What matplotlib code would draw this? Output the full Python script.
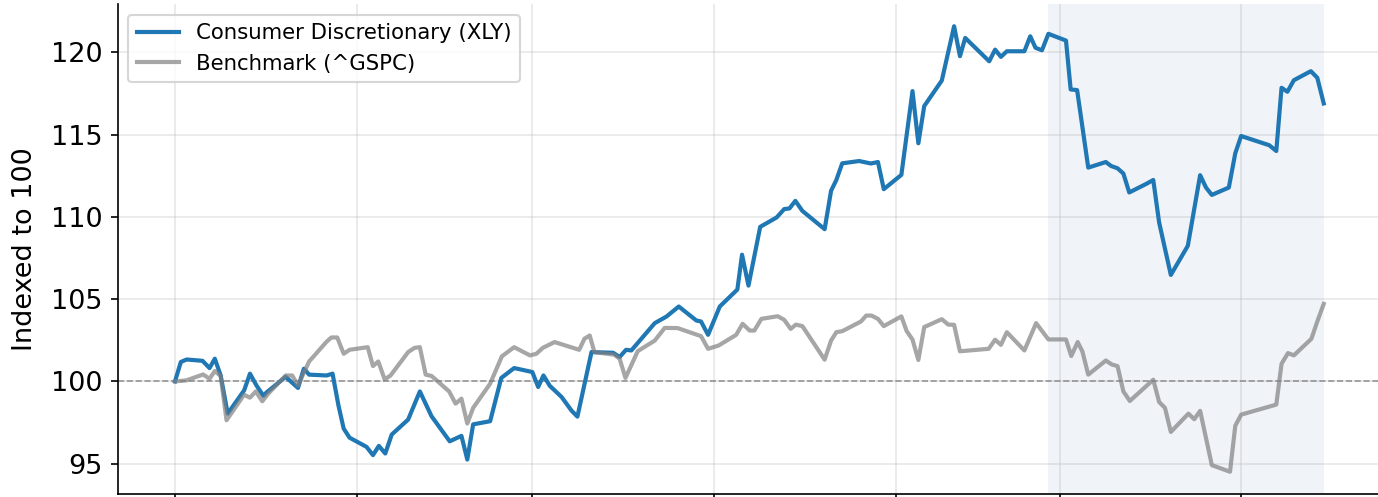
import matplotlib
matplotlib.use("Agg")
import matplotlib.pyplot as plt
import matplotlib.dates as mdates
import pandas as pd

start_date = pd.Timestamp("2024-10-01")

# Consumer Discretionary (XLY), days since start and indexed values
xly_days = [0, 1.0, 2.0, 4.7, 5.9, 6.8, 7.8, 9.0, 11.8, 12.8, 13.9, 15.1, 15.6, 18.9, 20.0,
            21.0, 22.0, 22.9, 25.9, 26.9, 27.9, 28.8, 29.8, 32.7, 33.8, 34.8, 35.9, 37.0,
            39.8, 41.8, 43.8, 46.9, 48.9, 49.9, 50.9, 53.8, 55.7, 57.9, 61.0, 62.0, 62.9,
            64.0, 65.0, 66.0, 67.7, 68.7, 71.1, 74.8, 75.9, 77.0, 77.9, 81.9, 83.9, 86.0,
            89.0, 89.8, 91.0, 93.0, 96.0, 96.8, 97.9, 99.9, 102.7, 104.0, 104.9, 105.9,
            107.1, 110.9, 112.0, 112.9, 113.9, 116.8, 118.8, 120.0, 121.0, 124.0, 125.9,
            126.9, 127.9, 130.9, 133.0, 134.0, 134.9, 139.0, 140.0, 141.0, 142.0, 145.0,
            146.0, 146.9, 148.0, 149.1, 152.1, 152.9, 154.0, 155.9, 158.9, 159.8, 160.9,
            161.9, 162.9, 165.9, 167.0, 168.0, 170.0, 172.9, 175.0, 176.0, 177.0, 179.9,
            181.0, 182.0, 186.8, 188.0, 188.9, 189.9, 191.0, 193.9, 195.0, 196.1]
xly_values = [100.0, 101.18, 101.33, 101.25, 100.81, 101.38, 100.36, 98.04, 99.45, 100.47,
              99.76, 99.12, 99.32, 100.28, 99.92, 99.6, 100.77, 100.41, 100.36, 100.47,
              98.55, 97.13, 96.58, 96.02, 95.52, 96.08, 95.62, 96.77, 97.68, 99.39, 97.88,
              96.36, 96.69, 95.25, 97.39, 97.58, 100.21, 100.81, 100.57, 99.66, 100.36,
              99.72, 99.39, 99.05, 98.22, 97.86, 101.78, 101.74, 101.48, 101.92, 101.88,
              103.54, 103.94, 104.55, 103.7, 103.64, 102.83, 104.55, 105.58, 107.7, 105.82,
              109.39, 109.96, 110.47, 110.51, 110.97, 110.36, 109.25, 111.58, 112.24,
              113.25, 113.39, 113.24, 113.33, 111.68, 112.55, 117.64, 114.47, 116.73,
              118.28, 121.58, 119.76, 120.87, 119.45, 120.16, 119.72, 120.06, 120.06,
              120.97, 120.27, 120.12, 121.12, 120.71, 117.74, 117.7, 112.99, 113.33,
              113.09, 112.95, 112.63, 111.48, 112.02, 112.24, 109.66, 106.47, 108.24,
              112.53, 111.78, 111.33, 111.78, 113.86, 114.91, 114.35, 114.0, 117.84,
              117.6, 118.3, 118.85, 118.45, 116.89]

# Benchmark (^GSPC)
spx_days = [0, 1.9, 4.8, 5.9, 6.8, 7.8, 8.8, 11.8, 12.8, 13.8, 14.9, 15.9, 18.9, 20.0, 21.0,
            22.9, 25.9, 26.7, 27.7, 28.8, 29.8, 32.9, 33.8, 34.7, 35.8, 36.8, 39.8, 40.9,
            41.8, 42.8, 43.8, 46.8, 47.9, 48.9, 49.9, 50.9, 53.8, 55.8, 57.9, 60.6, 61.7,
            62.8, 64.8, 69.0, 69.9, 70.8, 71.6, 75.0, 75.9, 76.9, 79.0, 81.9, 83.6, 85.8,
            89.8, 91.0, 92.8, 95.8, 96.9, 98.1, 98.9, 100.1, 102.9, 104.0, 105.1, 106.0,
            107.1, 110.9, 112.0, 112.9, 113.9, 117.1, 118.0, 118.9, 120.0, 121.0, 124.0,
            124.9, 125.9, 126.9, 127.9, 130.9, 132.0, 133.0, 134.0, 138.9, 140.0, 141.0,
            142.0, 145.0, 147.0, 149.1, 152.1, 153.0, 154.1, 154.9, 155.9, 158.9, 159.9,
            160.9, 161.9, 163.0, 167.0, 168.0, 169.0, 170.0, 173.0, 174.0, 175.0, 177.0,
            180.1, 181.0, 182.0, 188.0, 188.9, 190.0, 191.0, 194.0, 195.0, 196.1]
spx_values = [100.0, 100.06, 100.42, 100.16, 100.63, 100.33, 97.64, 99.19, 99.01, 99.39,
              98.79, 99.25, 100.36, 100.36, 99.76, 101.21, 102.42, 102.67, 102.67, 101.68,
              101.92, 102.08, 100.93, 101.21, 100.12, 100.36, 101.78, 102.04, 102.08,
              100.41, 100.33, 99.39, 98.65, 98.95, 97.44, 98.39, 99.86, 101.52, 102.08,
              101.58, 101.68, 102.04, 102.39, 101.92, 102.59, 102.79, 101.78, 101.62,
              101.38, 100.21, 101.84, 102.48, 103.25, 103.24, 102.75, 101.98, 102.18,
              102.83, 103.5, 103.09, 103.09, 103.8, 103.96, 103.74, 103.19, 103.45,
              103.36, 101.32, 102.48, 102.99, 103.05, 103.64, 104.0, 104.0, 103.8, 103.36,
              103.95, 103.06, 102.54, 101.3, 103.3, 103.78, 103.45, 103.44, 101.83,
              101.98, 102.53, 102.22, 102.99, 101.88, 103.54, 102.55, 102.55, 101.54,
              102.39, 101.82, 100.41, 101.27, 101.03, 100.93, 99.39, 98.81, 100.1, 98.75,
              98.39, 96.93, 98.04, 97.7, 98.21, 94.91, 94.51, 97.3, 97.98, 98.59, 101.07,
              101.72, 101.58, 102.59, 103.64, 104.71]

shade_start_day = 149

xly_dates = start_date + pd.to_timedelta(xly_days, unit="D")
spx_dates = start_date + pd.to_timedelta(spx_days, unit="D")

fig = plt.figure(figsize=(1378 / 150, 497 / 150), dpi=150)
ax = fig.add_axes([0.0853, 0.006, 0.917, 0.986])

ax.axvspan(start_date + pd.Timedelta(days=shade_start_day), xly_dates[-1],
           color="#4C72B0", alpha=0.08, lw=0, zorder=0)
ax.axhline(100, color="gray", lw=0.8, ls="--", alpha=0.8, zorder=1)
ax.plot(xly_dates, xly_values, color="#1f77b4", lw=2, label="Consumer Discretionary (XLY)", zorder=3)
ax.plot(spx_dates, spx_values, color="gray", lw=2, alpha=0.7, label="Benchmark (^GSPC)", zorder=3)

ax.grid(True, alpha=0.3)
ax.set_axisbelow(True)
ax.xaxis.set_major_locator(mdates.MonthLocator())
ax.tick_params(axis="x", labelbottom=False)
ax.tick_params(axis="y", labelsize=13)
ax.set_ylabel("Indexed to 100", fontsize=13, labelpad=6.5)
ax.spines["top"].set_visible(False)
ax.spines["right"].set_visible(False)
ax.legend(loc="upper left", fontsize=10.2)

fig.savefig("out.png", dpi=150)
